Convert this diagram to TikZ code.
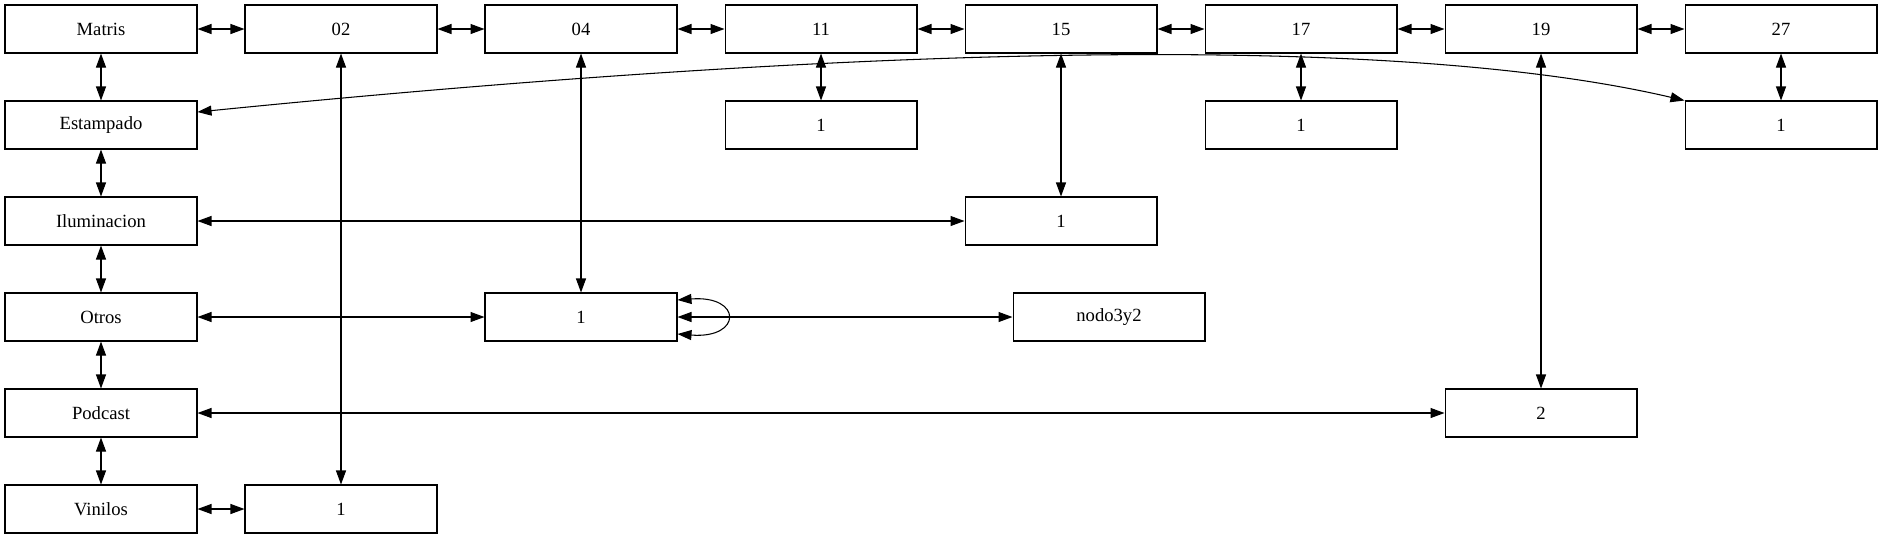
\documentclass[tikz,border=0pt]{standalone}
\usepackage{fontspec}
\setmainfont{Liberation Serif}
\usetikzlibrary{arrows.meta}

\begin{document}
\begin{tikzpicture}[x=0.02cm,y=-0.02cm,
        box/.style={draw, line width=0.6pt, minimum width=3.84cm, minimum height=0.96cm, inner sep=0pt, font=\fontsize{10.6}{12}\selectfont},
        link/.style={{Triangle[length=0.28cm,width=0.2cm]}-{Triangle[length=0.28cm,width=0.2cm]}, line width=0.6pt}]
        \useasboundingbox (0,0) rectangle (1883,539);
        % top row
        \node[box] (matris) at (101,29) {Matris};
        \node[box] (n02) at (341,29) {02};
        \node[box] (n04) at (581,29) {04};
        \node[box] (n11) at (821,29) {11};
        \node[box] (n15) at (1061,29) {15};
        \node[box] (n17) at (1301,29) {17};
        \node[box] (n19) at (1541,29) {19};
        \node[box] (n27) at (1781,29) {27};
        % first column
        \node[box] (estampado) at (101,125) {Estampado};
        \node[box] (iluminacion) at (101,221) {Iluminacion};
        \node[box] (otros) at (101,317) {Otros};
        \node[box] (podcast) at (101,413) {Podcast};
        \node[box] (vinilos) at (101,509) {Vinilos};
        % counts
        \node[box] (uno11) at (821,125) {1};
        \node[box] (uno17) at (1301,125) {1};
        \node[box] (uno27) at (1781,125) {1};
        \node[box] (uno15) at (1061,221) {1};
        \node[box] (uno04) at (581,317) {1};
        \node[box] (nodo) at (1109,317) {nodo3y2};
        \node[box] (dos19) at (1541,413) {2};
        \node[box] (uno02) at (341,509) {1};

        % top row links
        \draw[link] (matris) -- (n02);
        \draw[link] (n02) -- (n04);
        \draw[link] (n04) -- (n11);
        \draw[link] (n11) -- (n15);
        \draw[link] (n15) -- (n17);
        \draw[link] (n17) -- (n19);
        \draw[link] (n19) -- (n27);
        % first column links
        \draw[link] (matris) -- (estampado);
        \draw[link] (estampado) -- (iluminacion);
        \draw[link] (iluminacion) -- (otros);
        \draw[link] (otros) -- (podcast);
        \draw[link] (podcast) -- (vinilos);
        % down links
        \draw[link] (n02) -- (uno02);
        \draw[link] (n04) -- (uno04);
        \draw[link] (n11) -- (uno11);
        \draw[link] (n15) -- (uno15);
        \draw[link] (n17) -- (uno17);
        \draw[link] (n19) -- (dos19);
        \draw[link] (n27) -- (uno27);
        % across links
        \draw[link] (iluminacion) -- (uno15);
        \draw[link] (otros) -- (uno04);
        \draw[link] (uno04) -- (nodo);
        \draw[link] (podcast) -- (dos19);
        \draw[link] (vinilos) -- (uno02);
        \draw[link] ([yshift=0.26cm]estampado.east) .. controls (797,52) and (1370,27) .. (uno27.north west);
        % loop
        \draw[link] ([yshift=0.34cm]uno04.east) .. controls +(1.3cm,0.1cm) and +(1.3cm,-0.1cm) .. ([yshift=-0.34cm]uno04.east);
    \end{tikzpicture}
\end{document}
